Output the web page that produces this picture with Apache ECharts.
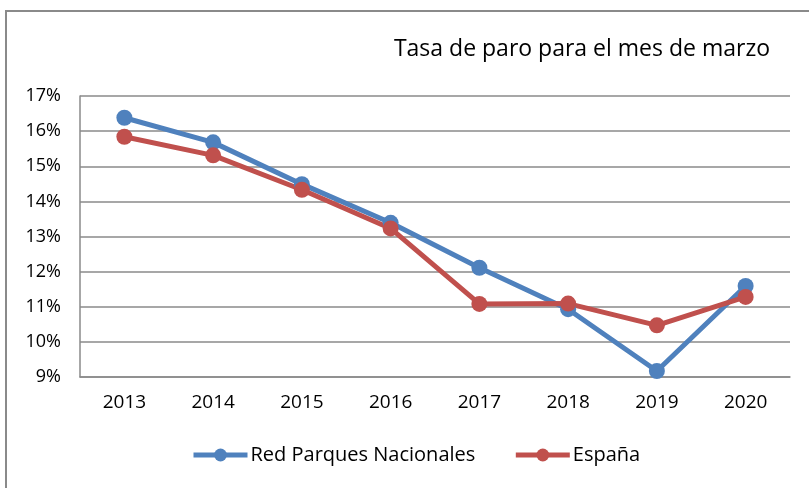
<!DOCTYPE html>
<html><head><meta charset="utf-8">
<script src="https://cdn.jsdelivr.net/npm/echarts@6/dist/echarts.min.js"></script>
<style>html,body{margin:0;padding:0;background:#fff}#c{width:809px;height:488px}</style>
</head><body><div id="c"></div>
<script>
const categories = ['2013','2014','2015','2016','2017','2018','2019','2020'];
const redParques = [16.38, 15.68, 14.49, 13.39, 12.11, 10.93, 9.17, 11.59];
const espana = [15.84, 15.31, 14.33, 13.23, 11.08, 11.09, 10.47, 11.28];
const yTicks = [9,10,11,12,13,14,15,16,17];
const font = 'Open Sans';
const chart = echarts.init(document.getElementById('c'));
chart.setOption({
  animation:false,
  backgroundColor:'#fff',
  title:{text:'Tasa de paro para el mes de marzo', right:34, top:33,
    textStyle:{fontFamily:font,fontSize:23,fontWeight:'normal',color:'#000'}},
  graphic:[{type:'rect',shape:{x:6,y:11,width:900,height:600},
    style:{fill:'none',stroke:'#8a8a8a',lineWidth:2}}],
  grid:{left:80,right:19,top:96,bottom:111},
  legend:{bottom:18,left:186,itemGap:38,itemWidth:54,itemHeight:16,
    lineStyle:{width:5},
    textStyle:{fontFamily:font,fontSize:20,color:'#000',padding:[0,0,0,-2]},
    data:['Red Parques Nacionales','España']},
  xAxis:{type:'category',data:categories,boundaryGap:true,
    axisLine:{lineStyle:{color:'#8a8a8a',width:1.5}},axisTick:{show:false},
    axisLabel:{fontFamily:font,fontSize:19,color:'#000',margin:16}},
  yAxis:{type:'value',min:9,max:17,interval:1,
    axisLine:{show:true,lineStyle:{color:'#8a8a8a',width:1.5}},axisTick:{show:false},
    splitLine:{lineStyle:{color:'#8a8a8a',width:1.5}},
    axisLabel:{fontFamily:font,fontSize:18,color:'#000',margin:19,
      formatter:v=>yTicks.includes(v)?v+'%':''}},
  series:[
    {name:'Red Parques Nacionales',type:'line',data:redParques,symbol:'circle',symbolSize:16,
      lineStyle:{color:'#4F81BD',width:5},itemStyle:{color:'#4F81BD'}},
    {name:'España',type:'line',data:espana,symbol:'circle',symbolSize:16,
      lineStyle:{color:'#C0504D',width:5},itemStyle:{color:'#C0504D'}}
  ]
});
</script></body></html>
